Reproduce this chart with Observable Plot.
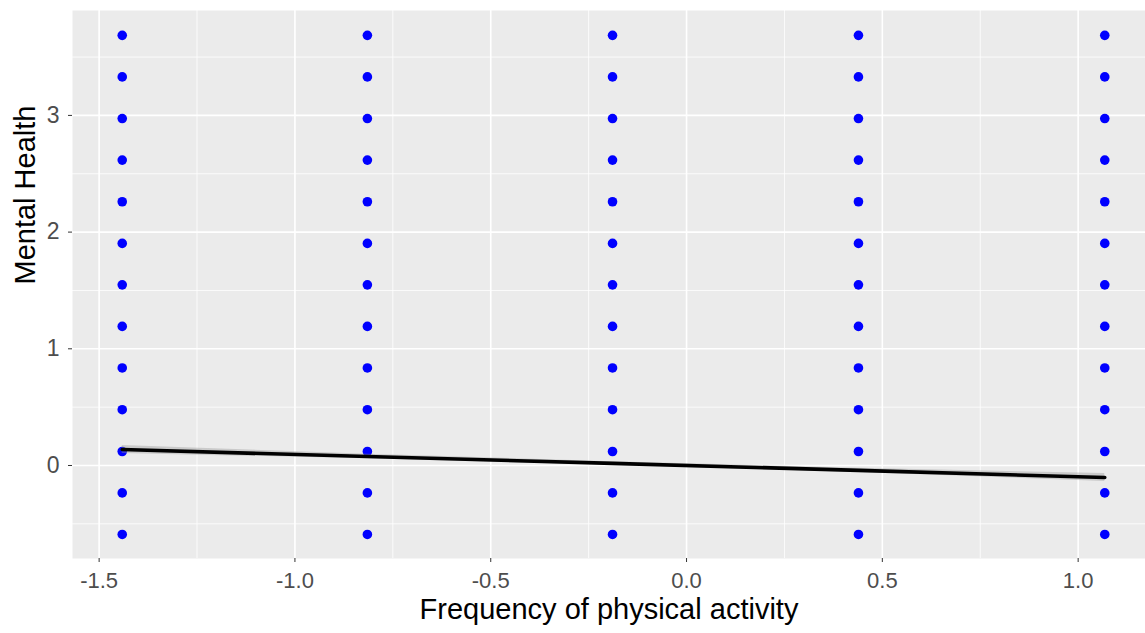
<!DOCTYPE html>
<html>
<head>
<meta charset="utf-8">
<script src="https://cdn.jsdelivr.net/npm/d3@7"></script>
<script src="https://cdn.jsdelivr.net/npm/@observablehq/plot@0.6"></script>
<style>
  html, body { margin: 0; padding: 0; background: #fff; }
  #chart svg { display: block; }
</style>
</head>
<body>
<div id="chart"></div>
<script>
// Data
const activityLevels = [-1.441, -0.815, -0.189, 0.439, 1.068];
const mentalLevels = [-0.591, -0.235, 0.120, 0.478, 0.836, 1.192, 1.548, 1.903, 2.260, 2.617, 2.973, 3.330, 3.686];

// Fitted regression line with its confidence band
const fitX  = [-1.441, -0.815, -0.189, 0.439, 1.068];
const fitY  = [0.137, 0.077, 0.018, -0.042, -0.103];
const fitLo = [0.103, 0.057, 0.004, -0.060, -0.137];
const fitHi = [0.171, 0.097, 0.032, -0.024, -0.069];

const xMajor = [-1.5, -1.0, -0.5, 0.0, 0.5, 1.0];
const xMinor = [-1.25, -0.75, -0.25, 0.25, 0.75];
const yMajor = [0, 1, 2, 3];
const yMinor = [-0.5, 0.5, 1.5, 2.5, 3.5];

const points = activityLevels.flatMap(x => mentalLevels.map(y => ({x, y})));
const fit = fitX.map((x, i) => ({x, y: fitY[i], lo: fitLo[i], hi: fitHi[i]}));

const font = "Liberation Sans, Arial, sans-serif";

const chart = Plot.plot({
  width: 1145,
  height: 633,
  marginLeft: 72,
  marginRight: 0,
  marginTop: 10,
  marginBottom: 75,
  style: {fontFamily: font, background: "#ffffff", overflow: "visible"},
  x: {domain: [-1.568, 1.172]},
  y: {domain: [-0.797, 3.899]},
  marks: [
    Plot.frame({fill: "#EBEBEB", stroke: null}),
    Plot.ruleX(xMinor, {stroke: "#ffffff", strokeWidth: 0.8}),
    Plot.ruleY(yMinor, {stroke: "#ffffff", strokeWidth: 0.8}),
    Plot.ruleX(xMajor, {stroke: "#ffffff", strokeWidth: 1.6}),
    Plot.ruleY(yMajor, {stroke: "#ffffff", strokeWidth: 1.6}),
    Plot.axisX({ticks: xMajor, tickFormat: d => d.toFixed(1), tickSize: 4, tickPadding: 10,
      stroke: "#333333", fill: "#4D4D4D", fontSize: 22, label: null}),
    Plot.axisY({ticks: yMajor, tickFormat: d => String(d), tickSize: 4, tickPadding: 9,
      stroke: "#333333", fill: "#4D4D4D", fontSize: 23, label: null}),
    Plot.dot(points, {x: "x", y: "y", r: 4.8, fill: "#0000FF", stroke: null}),
    Plot.areaY(fit, {x: "x", y1: "lo", y2: "hi", fill: "#999999", fillOpacity: 0.4}),
    Plot.line(fit, {x: "x", y: "y", stroke: "#000000", strokeWidth: 3.6}),
    Plot.text(["Frequency of physical activity"], {frameAnchor: "bottom", dy: 60, fontSize: 29, fill: "#000000", text: d => d}),
    Plot.text(["Mental Health"], {frameAnchor: "left", rotate: -90, dx: -47, fontSize: 29, fill: "#000000", text: d => d})
  ]
});
document.getElementById("chart").appendChild(chart);
</script>
</body>
</html>
